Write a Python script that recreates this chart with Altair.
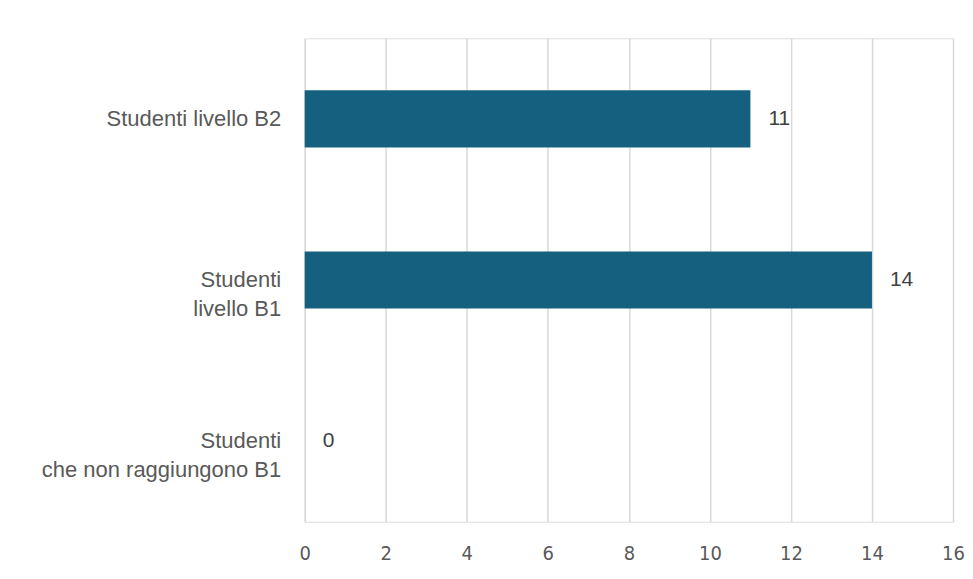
import altair as alt
import pandas as pd

categories = ["Studenti livello B2", "Studenti\nlivello B1", "Studenti\nche non raggiungono B1"]
values = [11, 14, 0]
x_ticks = [0, 2, 4, 6, 8, 10, 12, 14, 16]

df = pd.DataFrame({"cat": categories, "val": values})

FONT = "Liberation Sans"
TICK_FONT = "Liberation Sans Narrow, DejaVu Sans Condensed, Liberation Sans"

y_enc = alt.Y(
    "cat:N",
    sort=categories,
    title=None,
    scale=alt.Scale(paddingInner=0.645, paddingOuter=0.3225),
    axis=alt.Axis(
        domain=False,
        ticks=False,
        grid=False,
        labelPadding=24,
        labelAlign="right",
        labelBaseline="middle",
        labelFont=FONT,
        labelFontSize=22,
        labelColor="#595959",
        labelLineHeight=29,
        labelExpr="split(datum.label, '\\n')",
        minExtent=297,
        maxExtent=297,
        labelLimit=300,
    ),
)

x_enc = alt.X(
    "val:Q",
    title=None,
    scale=alt.Scale(domain=[0, 16], nice=False),
    axis=alt.Axis(
        values=x_ticks,
        domain=False,
        ticks=False,
        grid=True,
        gridColor="#d9d9d9",
        gridWidth=1.5,
        labelPadding=22,
        labelFont=TICK_FONT,
        labelFontSize=20,
        labelColor="#595959",
        labelFlush=False,
    ),
)

bars = alt.Chart(df).mark_bar(color="#16607F").encode(x=x_enc, y=y_enc)

labels = alt.Chart(df).mark_text(
    align="left", baseline="middle", dx=18, font=FONT, fontSize=21, color="#404040"
).encode(x=alt.X("val:Q"), y=alt.Y("cat:N", sort=categories), text=alt.Text("val:Q"))

chart = (
    alt.layer(bars, labels)
    .properties(width=649, height=484, padding={"left": 0, "top": 30, "right": 0, "bottom": 0})
    .configure_view(stroke=None)
    .configure(background="white")
)

chart.save("out.html", embed_options={"renderer": "svg", "actions": False})
